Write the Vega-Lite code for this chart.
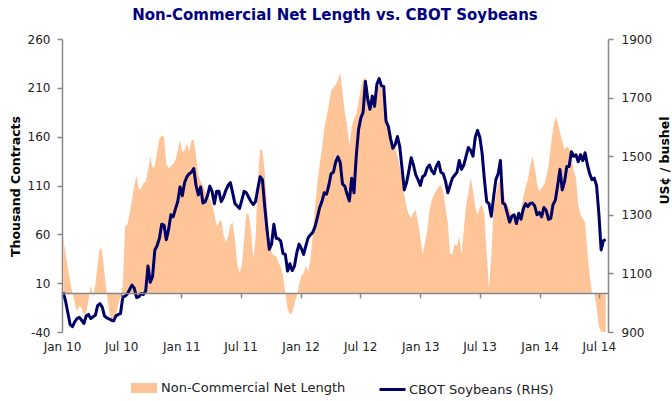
{
"$schema": "https://vega.github.io/schema/vega-lite/v6.json",
"width": 546, "height": 293,
"autosize": {"type": "none"},
"padding": {"left": 62, "top": 39, "right": 64, "bottom": 69},
"background": "white",
"config": {"view": {"stroke": null}, "font": "DejaVu Sans"},
"title": {"text": "Non-Commercial Net Length vs. CBOT Soybeans", "font": "DejaVu Sans", "fontSize": 15, "fontWeight": "bold", "color": "#000080", "anchor": "middle", "frame": "group", "offset": 10},
"data": {"values": [
{"date":"2010-01-05","net":55,"price":1035},{"date":"2010-01-12","net":40,"price":1005},{"date":"2010-01-19","net":25,"price":965},{"date":"2010-01-26","net":12,"price":925},
{"date":"2010-02-02","net":0,"price":918},{"date":"2010-02-09","net":-10,"price":935},{"date":"2010-02-16","net":-19,"price":946},{"date":"2010-02-23","net":-13,"price":950},
{"date":"2010-03-02","net":-16,"price":940},{"date":"2010-03-09","net":-22,"price":929},{"date":"2010-03-16","net":-20,"price":955},{"date":"2010-03-23","net":-8,"price":960},{"date":"2010-03-30","net":8,"price":946},
{"date":"2010-04-06","net":-4,"price":952},{"date":"2010-04-13","net":8,"price":957},{"date":"2010-04-20","net":30,"price":990},{"date":"2010-04-27","net":47,"price":997},
{"date":"2010-05-04","net":43,"price":985},{"date":"2010-05-11","net":20,"price":955},{"date":"2010-05-18","net":0,"price":948},{"date":"2010-05-25","net":-18,"price":945},
{"date":"2010-06-01","net":-28,"price":940},{"date":"2010-06-08","net":-30,"price":938},{"date":"2010-06-15","net":-22,"price":955},{"date":"2010-06-22","net":-12,"price":960},{"date":"2010-06-29","net":-4,"price":963},
{"date":"2010-07-06","net":8,"price":1020},{"date":"2010-07-13","net":68,"price":1022},{"date":"2010-07-20","net":70,"price":1030},{"date":"2010-07-27","net":82,"price":1045},
{"date":"2010-08-03","net":95,"price":1060},{"date":"2010-08-10","net":110,"price":1050},{"date":"2010-08-17","net":120,"price":1018},{"date":"2010-08-24","net":106,"price":1020},{"date":"2010-08-31","net":107,"price":1031},
{"date":"2010-09-07","net":112,"price":1028},{"date":"2010-09-14","net":114,"price":1040},{"date":"2010-09-21","net":125,"price":1125},{"date":"2010-09-28","net":140,"price":1070},
{"date":"2010-10-05","net":128,"price":1090},{"date":"2010-10-12","net":130,"price":1180},{"date":"2010-10-19","net":145,"price":1195},{"date":"2010-10-26","net":158,"price":1220},
{"date":"2010-11-02","net":161,"price":1268},{"date":"2010-11-09","net":160,"price":1265},{"date":"2010-11-16","net":132,"price":1215},{"date":"2010-11-23","net":128,"price":1250},{"date":"2010-11-30","net":130,"price":1300},
{"date":"2010-12-07","net":132,"price":1293},{"date":"2010-12-14","net":136,"price":1320},{"date":"2010-12-21","net":146,"price":1345},{"date":"2010-12-28","net":156,"price":1395},
{"date":"2011-01-04","net":144,"price":1365},{"date":"2011-01-11","net":146,"price":1410},{"date":"2011-01-18","net":153,"price":1430},{"date":"2011-01-25","net":145,"price":1440},
{"date":"2011-02-01","net":156,"price":1445},{"date":"2011-02-08","net":157,"price":1458},{"date":"2011-02-15","net":140,"price":1400},{"date":"2011-02-22","net":120,"price":1368},
{"date":"2011-03-01","net":114,"price":1395},{"date":"2011-03-08","net":110,"price":1340},{"date":"2011-03-15","net":104,"price":1345},{"date":"2011-03-22","net":100,"price":1365},{"date":"2011-03-29","net":96,"price":1398},
{"date":"2011-04-05","net":90,"price":1380},{"date":"2011-04-12","net":82,"price":1338},{"date":"2011-04-19","net":68,"price":1380},{"date":"2011-04-26","net":72,"price":1380},
{"date":"2011-05-03","net":75,"price":1345},{"date":"2011-05-10","net":60,"price":1360},{"date":"2011-05-17","net":52,"price":1383},{"date":"2011-05-24","net":58,"price":1400},{"date":"2011-05-31","net":70,"price":1410},
{"date":"2011-06-07","net":72,"price":1375},{"date":"2011-06-14","net":55,"price":1338},{"date":"2011-06-21","net":30,"price":1330},{"date":"2011-06-28","net":21,"price":1322},
{"date":"2011-07-05","net":28,"price":1350},{"date":"2011-07-12","net":55,"price":1380},{"date":"2011-07-19","net":82,"price":1375},{"date":"2011-07-26","net":80,"price":1360},
{"date":"2011-08-02","net":65,"price":1345},{"date":"2011-08-09","net":35,"price":1335},{"date":"2011-08-16","net":55,"price":1345},{"date":"2011-08-23","net":115,"price":1390},{"date":"2011-08-30","net":148,"price":1430},
{"date":"2011-09-06","net":145,"price":1420},{"date":"2011-09-13","net":125,"price":1330},{"date":"2011-09-20","net":90,"price":1250},{"date":"2011-09-27","net":55,"price":1182},
{"date":"2011-10-04","net":42,"price":1200},{"date":"2011-10-11","net":38,"price":1268},{"date":"2011-10-18","net":38,"price":1220},{"date":"2011-10-25","net":31,"price":1218},
{"date":"2011-11-01","net":27,"price":1210},{"date":"2011-11-08","net":18,"price":1168},{"date":"2011-11-15","net":0,"price":1165},{"date":"2011-11-22","net":-16,"price":1108},{"date":"2011-11-29","net":-22,"price":1133},
{"date":"2011-12-06","net":-20,"price":1110},{"date":"2011-12-13","net":-12,"price":1125},{"date":"2011-12-20","net":-2,"price":1170},{"date":"2011-12-27","net":8,"price":1200},
{"date":"2012-01-03","net":18,"price":1185},{"date":"2012-01-10","net":20,"price":1165},{"date":"2012-01-17","net":28,"price":1195},{"date":"2012-01-24","net":22,"price":1222},{"date":"2012-01-31","net":35,"price":1232},
{"date":"2012-02-07","net":60,"price":1240},{"date":"2012-02-14","net":88,"price":1260},{"date":"2012-02-21","net":112,"price":1290},{"date":"2012-02-28","net":132,"price":1325},
{"date":"2012-03-06","net":147,"price":1345},{"date":"2012-03-13","net":168,"price":1375},{"date":"2012-03-20","net":180,"price":1370},{"date":"2012-03-27","net":192,"price":1400},
{"date":"2012-04-03","net":207,"price":1440},{"date":"2012-04-10","net":210,"price":1445},{"date":"2012-04-17","net":213,"price":1480},{"date":"2012-04-24","net":218,"price":1498},
{"date":"2012-05-01","net":225,"price":1478},{"date":"2012-05-08","net":205,"price":1405},{"date":"2012-05-15","net":185,"price":1398},{"date":"2012-05-22","net":172,"price":1370},{"date":"2012-05-29","net":150,"price":1347},
{"date":"2012-06-05","net":170,"price":1425},{"date":"2012-06-12","net":178,"price":1375},{"date":"2012-06-19","net":183,"price":1500},{"date":"2012-06-26","net":195,"price":1590},
{"date":"2012-07-03","net":210,"price":1630},{"date":"2012-07-10","net":218,"price":1650},{"date":"2012-07-17","net":221,"price":1755},{"date":"2012-07-24","net":212,"price":1695},{"date":"2012-07-31","net":196,"price":1660},
{"date":"2012-08-07","net":198,"price":1705},{"date":"2012-08-14","net":203,"price":1670},{"date":"2012-08-21","net":212,"price":1745},{"date":"2012-08-28","net":212,"price":1765},
{"date":"2012-09-04","net":210,"price":1740},{"date":"2012-09-11","net":200,"price":1738},{"date":"2012-09-18","net":185,"price":1620},{"date":"2012-09-25","net":172,"price":1602},
{"date":"2012-10-02","net":157,"price":1560},{"date":"2012-10-09","net":153,"price":1527},{"date":"2012-10-16","net":150,"price":1539},{"date":"2012-10-23","net":140,"price":1567},{"date":"2012-10-30","net":130,"price":1533},
{"date":"2012-11-06","net":118,"price":1460},{"date":"2012-11-13","net":100,"price":1385},{"date":"2012-11-20","net":88,"price":1410},{"date":"2012-11-27","net":80,"price":1450},
{"date":"2012-12-04","net":77,"price":1495},{"date":"2012-12-11","net":82,"price":1470},{"date":"2012-12-18","net":85,"price":1436},{"date":"2012-12-25","net":72,"price":1420},
{"date":"2013-01-01","net":57,"price":1400},{"date":"2013-01-08","net":40,"price":1430},{"date":"2013-01-15","net":50,"price":1436},{"date":"2013-01-22","net":64,"price":1460},{"date":"2013-01-29","net":85,"price":1470},
{"date":"2013-02-05","net":95,"price":1450},{"date":"2013-02-12","net":101,"price":1440},{"date":"2013-02-19","net":105,"price":1466},{"date":"2013-02-26","net":109,"price":1480},
{"date":"2013-03-05","net":110,"price":1445},{"date":"2013-03-12","net":104,"price":1440},{"date":"2013-03-19","net":88,"price":1415},{"date":"2013-03-26","net":72,"price":1375},
{"date":"2013-04-02","net":40,"price":1400},{"date":"2013-04-09","net":40,"price":1425},{"date":"2013-04-16","net":50,"price":1435},{"date":"2013-04-23","net":48,"price":1445},{"date":"2013-04-30","net":58,"price":1485},
{"date":"2013-05-07","net":40,"price":1455},{"date":"2013-05-14","net":65,"price":1470},{"date":"2013-05-21","net":90,"price":1500},{"date":"2013-05-28","net":103,"price":1530},
{"date":"2013-06-04","net":118,"price":1520},{"date":"2013-06-11","net":105,"price":1500},{"date":"2013-06-18","net":88,"price":1565},{"date":"2013-06-25","net":80,"price":1588},
{"date":"2013-07-02","net":88,"price":1565},{"date":"2013-07-09","net":90,"price":1510},{"date":"2013-07-16","net":80,"price":1420},{"date":"2013-07-23","net":41,"price":1345},{"date":"2013-07-30","net":5,"price":1338},
{"date":"2013-08-06","net":38,"price":1295},{"date":"2013-08-13","net":86,"price":1360},{"date":"2013-08-20","net":100,"price":1420},{"date":"2013-08-27","net":112,"price":1440},
{"date":"2013-09-03","net":116,"price":1485},{"date":"2013-09-10","net":108,"price":1340},{"date":"2013-09-17","net":95,"price":1335},{"date":"2013-09-24","net":90,"price":1305},
{"date":"2013-10-01","net":86,"price":1275},{"date":"2013-10-08","net":80,"price":1295},{"date":"2013-10-15","net":74,"price":1300},{"date":"2013-10-22","net":72,"price":1270},{"date":"2013-10-29","net":74,"price":1305},
{"date":"2013-11-05","net":85,"price":1285},{"date":"2013-11-12","net":99,"price":1320},{"date":"2013-11-19","net":108,"price":1338},{"date":"2013-11-26","net":116,"price":1328},
{"date":"2013-12-03","net":130,"price":1339},{"date":"2013-12-10","net":140,"price":1340},{"date":"2013-12-17","net":128,"price":1330},{"date":"2013-12-24","net":112,"price":1300},{"date":"2013-12-31","net":104,"price":1308},
{"date":"2014-01-07","net":108,"price":1293},{"date":"2014-01-14","net":110,"price":1325},{"date":"2014-01-21","net":118,"price":1315},{"date":"2014-01-28","net":130,"price":1284},
{"date":"2014-02-04","net":150,"price":1288},{"date":"2014-02-11","net":168,"price":1335},{"date":"2014-02-18","net":180,"price":1350},{"date":"2014-02-25","net":175,"price":1400},
{"date":"2014-03-04","net":165,"price":1455},{"date":"2014-03-11","net":155,"price":1385},{"date":"2014-03-18","net":147,"price":1413},{"date":"2014-03-25","net":150,"price":1465},
{"date":"2014-04-01","net":148,"price":1465},{"date":"2014-04-08","net":140,"price":1515},{"date":"2014-04-15","net":125,"price":1500},{"date":"2014-04-22","net":118,"price":1505},{"date":"2014-04-29","net":90,"price":1481},
{"date":"2014-05-06","net":80,"price":1505},{"date":"2014-05-13","net":76,"price":1485},{"date":"2014-05-20","net":72,"price":1512},{"date":"2014-05-27","net":42,"price":1470},
{"date":"2014-06-03","net":18,"price":1440},{"date":"2014-06-10","net":0,"price":1420},{"date":"2014-06-17","net":0,"price":1425},{"date":"2014-06-24","net":-15,"price":1400},
{"date":"2014-07-01","net":-35,"price":1305},{"date":"2014-07-08","net":-40,"price":1180},{"date":"2014-07-15","net":-40,"price":1212},{"date":"2014-07-22","net":-40,"price":1215}
]},
"layer": [
{"mark": {"type": "area", "clip": true, "opacity": 1, "interpolate": "linear"},
 "encoding": {
  "x": {"field": "date", "type": "temporal",
   "scale": {"type": "utc", "domain": [{"year": 2010, "month": 1, "date": 1, "utc": true}, {"year": 2014, "month": 7, "date": 29, "utc": true}]},
   "axis": {"orient": "bottom", "offset": -39.1, "title": null, "labelExpr": "utcFormat(datum.value, '%b %y')",
    "values": [{"year": 2010, "month": 1, "date": 1, "utc": true}, {"year": 2010, "month": 7, "date": 1, "utc": true}, {"year": 2011, "month": 1, "date": 1, "utc": true}, {"year": 2011, "month": 7, "date": 1, "utc": true}, {"year": 2012, "month": 1, "date": 1, "utc": true}, {"year": 2012, "month": 7, "date": 1, "utc": true}, {"year": 2013, "month": 1, "date": 1, "utc": true}, {"year": 2013, "month": 7, "date": 1, "utc": true}, {"year": 2014, "month": 1, "date": 1, "utc": true}, {"year": 2014, "month": 7, "date": 1, "utc": true}],
    "domainColor": "#888888", "domainWidth": 1.5, "tickColor": "#888888", "tickSize": 5, "tickWidth": 1.5,
    "labelPadding": 44, "labelFont": "DejaVu Sans", "labelFontSize": 12, "labelColor": "#222222", "labelFlush": false, "labelOverlap": false, "grid": false, "zindex": 1}},
  "y": {"field": "net", "type": "quantitative",
   "scale": {"domain": [-40, 260], "nice": false, "zero": false},
   "axis": {"values": [-40, 10, 60, 110, 160, 210, 260], "grid": false, "domainColor": "#888888", "domainWidth": 1.5, "tickColor": "#888888", "tickSize": 5, "tickWidth": 1.5,
    "labelExpr": "datum.value < 0 ? '-' + abs(datum.value) : '' + datum.value",
    "labelPadding": 7, "labelFont": "DejaVu Sans", "labelFontSize": 12, "labelColor": "#222222", "labelFlush": false,
    "title": "Thousand Contracts", "titleFont": "DejaVu Sans", "titleFontSize": 12.5, "titleFontWeight": "bold", "titleColor": "#000000", "titleAngle": -90, "titleX": -47, "titleY": 147, "titleBaseline": "middle", "titleAlign": "center"}},
  "fill": {"datum": "Non-Commercial Net Length", "scale": {"domain": ["Non-Commercial Net Length"], "range": ["#FFC599"]},
   "legend": {"orient": "none", "legendX": 69, "legendY": 336, "direction": "horizontal", "title": null,
    "symbolType": "M-1,-0.385H1V0.385H-1Z", "symbolSize": 676, "symbolStrokeWidth": 0, "symbolOpacity": 1,
    "labelFont": "DejaVu Sans", "labelFontSize": 13, "labelColor": "#222222", "labelOffset": 4, "labelLimit": 400}}
 }},
{"mark": {"type": "line", "clip": true, "strokeWidth": 3, "strokeJoin": "round", "interpolate": "linear"},
 "encoding": {
  "x": {"field": "date", "type": "temporal"},
  "y": {"field": "price", "type": "quantitative",
   "scale": {"domain": [900, 1900], "nice": false, "zero": false},
   "axis": {"orient": "right", "values": [900, 1100, 1300, 1500, 1700, 1900], "format": "d", "grid": false, "domainColor": "#888888", "domainWidth": 1.5, "tickColor": "#888888", "tickSize": 5, "tickWidth": 1.5,
    "labelPadding": 8, "labelFont": "DejaVu Sans", "labelFontSize": 12, "labelColor": "#222222", "labelFlush": false,
    "title": "US¢ / bushel", "titleFont": "DejaVu Sans", "titleFontSize": 12.5, "titleFontWeight": "bold", "titleColor": "#000000", "titleAngle": -90, "titleX": 56, "titleY": 121, "titleBaseline": "middle", "titleAlign": "center"}},
  "stroke": {"datum": "CBOT Soybeans (RHS)", "scale": {"domain": ["CBOT Soybeans (RHS)"], "range": ["#000066"]},
   "legend": {"orient": "none", "legendX": 316, "legendY": 336, "direction": "horizontal", "title": null,
    "symbolType": "stroke", "symbolSize": 676, "symbolStrokeWidth": 3,
    "labelFont": "DejaVu Sans", "labelFontSize": 13, "labelColor": "#222222", "labelOffset": 2, "labelLimit": 400}}
 }}
],
"resolve": {"scale": {"y": "independent"}}
}
